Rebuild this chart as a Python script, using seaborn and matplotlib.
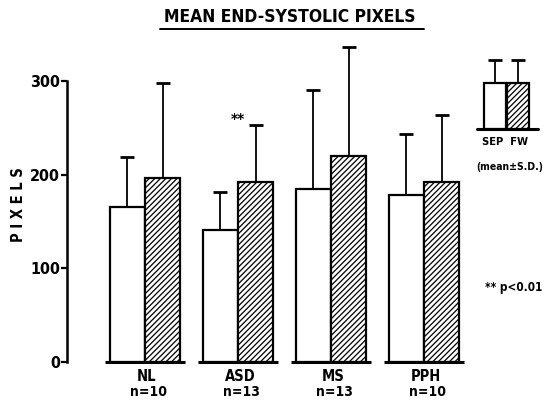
import matplotlib
matplotlib.use("Agg")
import matplotlib.pyplot as plt
from matplotlib.lines import Line2D
import seaborn as sns
import pandas as pd
import numpy as np

# ---- data ----
groups = ["NL", "ASD", "MS", "PPH"]
group_n = ["n=10", "n=13", "n=13", "n=10"]
sep_mean = [165, 141, 185, 178]
sep_sd = [54, 40, 105, 65]
fw_mean = [196, 192, 220, 192]
fw_sd = [102, 61, 116, 72]
series = ["SEP", "FW"]
yticks = [0, 100, 200, 300]
legend_heights = [1.0, 1.0]
legend_sd = [0.5, 0.5]
sig_group = "ASD"
sig_y = 258

sns.set_style("white")
plt.rcParams["font.family"] = ["DejaVu Sans"]
plt.rcParams["text.color"] = "black"
plt.rcParams["hatch.linewidth"] = 0.9
FONT = dict(family="DejaVu Sans", stretch="condensed", weight="bold")

W, H = 554, 407
fig = plt.figure(figsize=(W / 100, H / 100), dpi=100)

def px_rect(x0, y0, x1, y1):
    # pixel box (top-left origin) -> figure fraction rect
    return [x0 / W, 1 - y1 / H, (x1 - x0) / W, (y1 - y0) / H]

def upper_errorbars(axis, xs, ys, errs):
    eb = axis.errorbar(xs, ys, yerr=[np.zeros(len(errs)), errs], fmt="none",
                       ecolor="black", elinewidth=1.3, capsize=4.7,
                       capthick=2.0, zorder=1)
    caps = eb[1]
    # hide the lower caps (sitting on top of the bars)
    lows = min(caps, key=lambda c: np.mean(c.get_ydata()))
    lows.set_visible(False)

ax = fig.add_axes(px_rect(67, 40, 470, 362))

df = pd.DataFrame({
    "group": groups * 2,
    "series": [series[0]] * 4 + [series[1]] * 4,
    "value": sep_mean + fw_mean,
})
sns.barplot(data=df, x="group", y="value", hue="series", order=groups,
            hue_order=series, palette=["white", "white"], edgecolor="black",
            linewidth=1.6, width=0.753, gap=0, legend=False, ax=ax,
            errorbar=None)

bars = list(ax.patches)
for p in bars[4:8]:
    p.set_hatch("//////")

sds = sep_sd + fw_sd
means = sep_mean + fw_mean
centers = [p.get_x() + p.get_width() / 2 for p in bars[:8]]
upper_errorbars(ax, centers, means, sds)

# per-group baselines
ext = 5 / 93
for i in range(4):
    l = bars[i].get_x() - ext
    r = bars[i + 4].get_x() + bars[i + 4].get_width() + ext
    ax.hlines(0, l, r, color="black", lw=2.2, clip_on=False, zorder=5)

ax.set_xlim(-0.8387, 3.4946)
ax.set_ylim(0, 343.6)
for s in ["top", "right", "bottom"]:
    ax.spines[s].set_visible(False)
ax.spines["left"].set_bounds(0, 300)
ax.spines["left"].set_linewidth(1.8)
ax.spines["left"].set_color("black")
ax.set_yticks(yticks)
ax.set_yticklabels([str(t) for t in yticks], fontdict=dict(FONT, size=11.5))
ax.tick_params(axis="y", left=True, length=4, width=1.6, pad=1, colors="black")
ax.set_xticks([])
ax.set_xlabel("")
ax.set_ylabel("")

# x labels
gpos = list(range(len(groups)))
for i, (g, n) in enumerate(zip(groups, group_n)):
    ax.text(gpos[i] + 0.02, -15, g, ha="center", va="center",
            fontdict=dict(FONT, size=10.5), clip_on=False)
    ax.text(gpos[i] + 0.04, -32, n, ha="center", va="center",
            fontdict=dict(FONT, size=10), clip_on=False)

# significance
ax.text(groups.index(sig_group), sig_y, "**", ha="center", va="center",
        fontdict=dict(FONT, size=11))

# y label
fig.text(19 / W, 1 - 205 / H, "P I X E L S", rotation=90, ha="center",
         va="center", fontdict=dict(FONT, size=10.5))

# title
fig.text(290 / W, 1 - 17 / H, "MEAN END-SYSTOLIC PIXELS", ha="center",
         va="center", fontdict=dict(FONT, size=12.5))
fig.add_artist(Line2D([160 / W, 424 / W], [1 - 28.5 / H, 1 - 28.5 / H],
                      color="black", lw=1.4))

# legend inset
lax = fig.add_axes(px_rect(477, 55, 538, 129))
ldf = pd.DataFrame({"series": series, "h": legend_heights})
sns.barplot(data=ldf, x="series", y="h", hue="series", palette=["white", "white"],
            edgecolor="black", linewidth=1.6, width=0.98, legend=False,
            ax=lax, errorbar=None)
lbars = list(lax.patches)
lbars[1].set_hatch("//////")
lc = [p.get_x() + p.get_width() / 2 for p in lbars]
upper_errorbars(lax, lc, legend_heights, legend_sd)
lax.set_xlim(-0.78, 1.87)
lax.set_ylim(0, 74 / 46.3)
lax.axhline(0, color="black", lw=2.2, clip_on=False)
lax.axis("off")
fig.text(505 / W, 1 - 142 / H, "SEP  FW", ha="center", va="center",
         fontdict=dict(FONT, size=8))
fig.text(510 / W, 1 - 167 / H, "(mean\u00b1S.D.)", ha="center", va="center",
         fontdict=dict(FONT, size=7.5))
fig.text(514 / W, 1 - 287 / H, "** p<0.01", ha="center", va="center",
         fontdict=dict(FONT, size=8.5))

fig.savefig("out.png", dpi=100)
